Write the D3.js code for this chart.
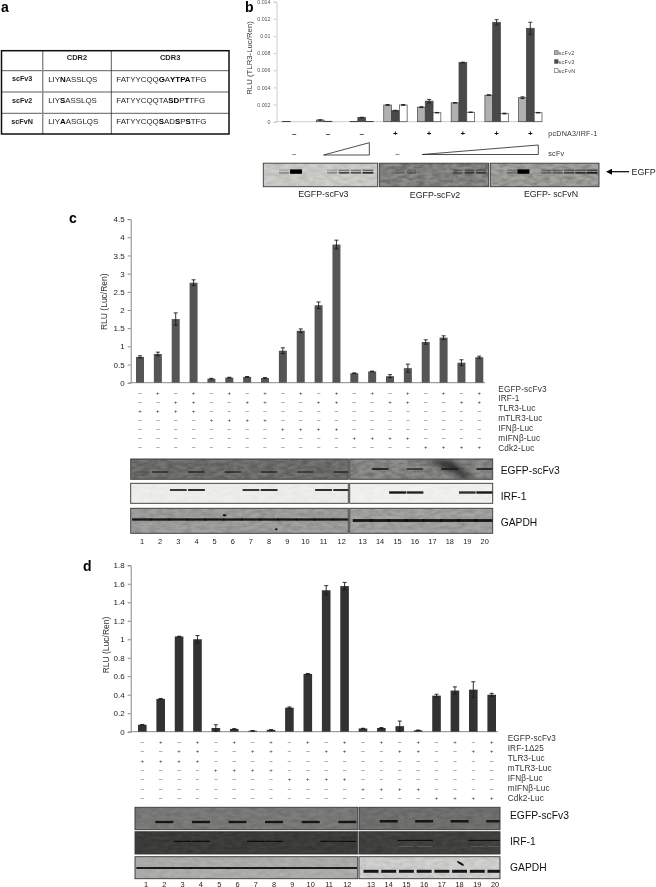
<!DOCTYPE html>
<html><head><meta charset="utf-8">
<script src="https://cdn.jsdelivr.net/npm/d3@7"></script>
<style>html,body{margin:0;background:#fff}svg{display:block}text{font-family:"Liberation Sans",Arial,sans-serif}</style>
</head><body><svg id="c" width="656" height="887"></svg>
<script>
// ---------- DATA ----------
const tableCols = ["", "CDR2", "CDR3"];
const tableNames = ["scFv3", "scFv2", "scFvN"];
const tableCdr2 = ["LIY*N*ASSLQS", "LIY*S*ASSLQS", "LIY*A*ASGLQS"];
const tableCdr3 = ["FATYYCQQ*G*A*YTP**A*TFG", "FATYYCQQTA*S**D*P*T*TFG", "FATYYCQQ*S*AD*S*P*S*TFG"];

const bSeries = ["scFv 2", "scFv 3", "scFv N"];
const bTicks = ["0", "0.002", "0.004", "0.006", "0.008", "0.01", "0.012", "0.014"];
const bScFv2 = [0.00003, 0.0002, 0.00003, 0.00195, 0.0017, 0.0022, 0.0031, 0.0028];
const bScFv3 = [0, 0.00005, 0.0005, 0.0013, 0.0024, 0.0069, 0.0116, 0.0109];
const bScFvN = [0, 0, 0.00003, 0.00195, 0.00105, 0.0011, 0.00095, 0.00105];
const bErr2 = [0, 0.00002, 0, 0.00005, 0.00005, 0.00003, 0.00005, 0.0001];
const bErr3 = [0, 0, 0.00002, 0.00003, 0.0002, 0.00005, 0.0003, 0.0007];
const bErrN = [0, 0, 0, 0.00005, 0.00003, 0.00003, 0.00005, 0.00003];
const bIrf = ["-", "-", "-", "+", "+", "+", "+", "+"];
const bGel1 = [0, .3, 1, 0, 0, .35, .7, .65, .85];
const bGel2 = [.25, .35, 0, 0, 0, .45, .65, .7];
const bGel3 = [.3, 1, 0, .4, .45, .65, .75, .9];
const bGelNames = ["EGFP-scFv3", "EGFP-scFv2", "EGFP- scFvN"];

const lanes = d3.range(1, 21);
const cTicks = [0, 0.5, 1, 1.5, 2, 2.5, 3, 3.5, 4, 4.5];
const cVals = [0.71, 0.79, 1.75, 2.75, 0.11, 0.14, 0.16, 0.13, 0.88, 1.43, 2.13, 3.80, 0.26, 0.31, 0.18, 0.40, 1.12, 1.24, 0.55, 0.70];
const cErrs = [0.03, 0.05, 0.17, 0.08, 0.01, 0.01, 0.01, 0.01, 0.08, 0.05, 0.09, 0.12, 0.01, 0.01, 0.04, 0.11, 0.06, 0.05, 0.08, 0.03];
const dTicks = [0, 0.2, 0.4, 0.6, 0.8, 1, 1.2, 1.4, 1.6, 1.8];
const dVals = [0.075, 0.355, 1.03, 1.0, 0.04, 0.03, 0.01, 0.02, 0.26, 0.625, 1.53, 1.575, 0.035, 0.04, 0.06, 0.015, 0.39, 0.445, 0.455, 0.40];
const dErrs = [0.003, 0.005, 0.003, 0.04, 0.035, 0.002, 0.002, 0.002, 0.008, 0.005, 0.05, 0.04, 0.002, 0.005, 0.055, 0.003, 0.015, 0.04, 0.085, 0.015];

const cRowNames = ["EGFP-scFv3", "IRF-1", "TLR3-Luc", "mTLR3-Luc", "IFNβ-Luc", "mIFNβ-Luc", "Cdk2-Luc"];
const dRowNames = ["EGFP-scFv3", "IRF-1Δ25", "TLR3-Luc", "mTLR3-Luc", "IFNβ-Luc", "mIFNβ-Luc", "Cdk2-Luc"];
const signRows = [
  "-+-+-+-+-+-+-+-+-+-+",
  "--++--++--++--++--++",
  "++++----------------",
  "----++++------------",
  "--------++++--------",
  "------------++++----",
  "----------------++++"];
const blotNames = ["EGFP-scFv3", "IRF-1", "GAPDH"];
const cEgfp = [.25, .7, 0, .75, 0, .7, 0, .7, 0, .65, 0, .75, 0, .95, 0, .75, 0, 1, 0, .9];
const cIrf = [0, 0, .9, .95, 0, 0, .9, .95, 0, 0, .95, .95, 0, 0, .95, .9, 0, 0, .85, .95];
const cGapdh = Array(20).fill(.95);
const dEgfp = [0, .95, 0, .95, 0, .9, 0, .95, 0, .95, 0, .95, 0, .95, 0, .95, 0, .95, 0, .85];
const dIrf = [0, 0, .9, .85, 0, 0, .85, .85, 0, 0, .8, .85, 0, 0, .9, .85, 0, 0, .8, .85];
const dGapdh = Array(20).fill(.95);

// ---------- HELPERS ----------
const svg = d3.select("#c");
const defs = svg.append("defs");
const blur = (id, s) => defs.append("filter").attr("id", id)
  .attr("x", "-30%").attr("y", "-100%").attr("width", "160%").attr("height", "300%")
  .append("feGaussianBlur").attr("stdDeviation", s);
blur("band", 0.6); blur("smear", 3);
defs.append("filter").attr("id", "page").attr("filterUnits", "userSpaceOnUse").attr("x", 0).attr("y", 0).attr("width", 656).attr("height", 887)
  .append("feGaussianBlur").attr("stdDeviation", 0.35);
const noise = defs.append("filter").attr("id", "noise").attr("x", 0).attr("y", 0).attr("width", "100%").attr("height", "100%");
noise.append("feTurbulence").attr("type", "fractalNoise").attr("baseFrequency", "0.12 0.3").attr("numOctaves", 3).attr("seed", 4);
noise.append("feColorMatrix").attr("values", "0 0 0 0 0  0 0 0 0 0  0 0 0 0 0  1.4 0 0 0 -0.45");
const root = svg.append("g").attr("filter", "url(#page)");
root.append("rect").attr("width", 656).attr("height", 887).attr("fill", "#fff");

function label(g, x, y, t, size, opts = {}) {
  return g.append("text").attr("x", x).attr("y", y).text(t).attr("font-size", size)
    .attr("fill", opts.fill || "#222").attr("text-anchor", opts.anchor || "start")
    .attr("font-weight", opts.weight || null).attr("dominant-baseline", "central")
    .attr("letter-spacing", opts.ls || null);
}
function marked(g, x, y, s, size) {
  const t = g.append("text").attr("x", x).attr("y", y).attr("font-size", size).attr("fill", "#222").attr("dominant-baseline", "central");
  s.split("*").forEach((p, i) => { if (p) t.append("tspan").text(p).attr("font-weight", i % 2 ? "bold" : null).attr("fill", i % 2 ? "#000" : null); });
}
function axis(g, scale, x, ticks, size, col, tickCol, baseEnd) {
  const a = g.append("g").attr("transform", `translate(${x},0)`).call(
    d3.axisLeft(scale).tickValues(ticks.map(Number)).tickFormat((d, i) => String(ticks[i])).tickSize(3).tickPadding(3));
  a.selectAll("path,line").attr("stroke", tickCol).attr("stroke-width", 1);
  a.selectAll("text").attr("font-size", size).attr("fill", col).attr("font-family", '"Liberation Sans",Arial,sans-serif');
  g.append("line").attr("x1", x).attr("x2", baseEnd).attr("y1", scale(0)).attr("y2", scale(0)).attr("stroke", tickCol).attr("stroke-width", 1);
}
function errBars(g, data, cx, y, color) {
  const e = g.selectAll(null).data(data).join("g").attr("stroke", color).attr("stroke-width", .9);
  e.append("line").attr("x1", cx).attr("x2", cx).attr("y1", d => y(d.v - d.e)).attr("y2", d => y(d.v + d.e));
  e.append("line").attr("x1", d => cx(d) - 2).attr("x2", d => cx(d) + 2).attr("y1", d => y(d.v + d.e)).attr("y2", d => y(d.v + d.e));
  e.append("line").attr("x1", d => cx(d) - 2).attr("x2", d => cx(d) + 2).attr("y1", d => y(d.v - d.e)).attr("y2", d => y(d.v - d.e));
}

// ---------- PANEL A ----------
const A = root.append("g");
label(A, 1, 7, "a", 14, { weight: "bold", fill: "#000" });
const colX = d3.scaleOrdinal([0, 1, 2, 3], [1.5, 42.7, 111.3, 229]);
const rowY = d3.scaleOrdinal([0, 1, 2, 3, 4], [50.7, 70.7, 92, 113.3, 134]);
[1, 2, 3].forEach(i => A.append("line").attr("x1", colX(0)).attr("x2", colX(3)).attr("y1", rowY(i)).attr("y2", rowY(i)).attr("stroke", "#333").attr("stroke-width", .8));
A.append("line").attr("x1", colX(1)).attr("x2", colX(1)).attr("y1", rowY(0)).attr("y2", rowY(4)).attr("stroke", "#888").attr("stroke-width", 1.4);
A.append("line").attr("x1", colX(2)).attr("x2", colX(2)).attr("y1", rowY(0)).attr("y2", rowY(4)).attr("stroke", "#333").attr("stroke-width", .8);
A.append("rect").attr("x", colX(0)).attr("y", rowY(0)).attr("width", colX(3) - colX(0)).attr("height", rowY(4) - rowY(0)).attr("fill", "none").attr("stroke", "#111").attr("stroke-width", 1.5);
[1, 2].forEach(i => label(A, (colX(i) + colX(i + 1)) / 2, 57.5, tableCols[i], 7.5, { anchor: "middle", weight: "bold" }));
tableNames.forEach((n, i) => {
  const y = (rowY(i + 1) + rowY(i + 2)) / 2 - 2.5;
  label(A, (colX(0) + colX(1)) / 2, y, n, 7.2, { anchor: "middle", weight: "bold" });
  marked(A, colX(1) + 5.5, y, tableCdr2[i], 7.9);
  marked(A, colX(2) + 5, y, tableCdr3[i], 7.9);
});

// ---------- PANEL B ----------
const B = root.append("g");
label(B, 245, 7, "b", 14, { weight: "bold", fill: "#000" });
const yB = d3.scaleLinear().domain([0, 0.014]).range([121.7, 1.7]);
axis(B, yB, 276.5, bTicks, 5.3, "#555", "#ccc", 541.7);
B.append("text").attr("transform", `translate(249,58) rotate(-90)`).attr("text-anchor", "middle").attr("dominant-baseline", "central").attr("font-size", 7.8).attr("fill", "#333").text("RLU (TLR3-Luc/Ren)");
const groups = d3.range(8);
const gx = d3.scalePoint().domain(groups).range([294.3, 530.3]);
const sx = d3.scaleBand().domain(bSeries).range([-11.7, 11.7]);
const sVals = [bScFv2, bScFv3, bScFvN], sErrs = [bErr2, bErr3, bErrN];
const sColor = d3.scaleOrdinal(bSeries, ["#b0b0b0", "#484848", "#ffffff"]);
bSeries.forEach((s, si) => {
  const data = groups.map(i => ({ i, v: sVals[si][i], e: sErrs[si][i] }));
  B.append("g").selectAll("rect").data(data).join("rect")
    .attr("x", d => gx(d.i) + sx(s)).attr("width", sx.bandwidth())
    .attr("y", d => yB(d.v)).attr("height", d => yB(0) - yB(d.v))
    .attr("fill", sColor(s)).attr("stroke", "#444").attr("stroke-width", .7);
  errBars(B, data.filter(d => d.e > 0), d => gx(d.i) + sx(s) + sx.bandwidth() / 2, yB, "#222");
});
bSeries.forEach((s, i) => {
  const y = 52.7 + i * 9;
  B.append("rect").attr("x", 554.5).attr("y", y - 2).attr("width", 3.6).attr("height", 3.6).attr("fill", sColor(s)).attr("stroke", "#555").attr("stroke-width", .6);
  label(B, 558.5, y, s.replace(" ", ""), 5.4, { fill: "#444", ls: ".35" });
});
bIrf.forEach((s, i) => label(B, gx(i), 133.3, s === "-" ? "–" : s, 8, { anchor: "middle", weight: "bold", fill: "#111" }));
label(B, 548.3, 133.7, "pcDNA3/IRF-1", 7.2, { fill: "#333", ls: ".2" });
label(B, 548.3, 153.3, "scFv", 7.2, { fill: "#333", ls: ".2" });
[0, 3].forEach(i => label(B, gx(i) + (i ? 2 : 0), 153.3, "–", 7, { anchor: "middle", fill: "#111" }));
const tri = (x0, x1, yT, yB2) => B.append("path").attr("d", d3.line()([[x0, yB2], [x1, yT], [x1, yB2]]) + "Z").attr("fill", "#fff").attr("stroke", "#222").attr("stroke-width", .8);
tri(gx(1) - 4.4, gx(2) + 7.6, 142.7, 155);
tri(gx(3) + 26.7, gx(7) + 8, 145, 154.5);

let gelId = 0;
function gel(g, x0, x1, y0, y1, fill, stroke = "#333") {
  const id = "gelclip" + (gelId++);
  defs.append("clipPath").attr("id", id).append("rect").attr("x", x0).attr("y", y0).attr("width", x1 - x0).attr("height", y1 - y0);
  const r = g.append("g").attr("clip-path", `url(#${id})`);
  r.append("rect").attr("x", x0).attr("y", y0).attr("width", x1 - x0).attr("height", y1 - y0).attr("fill", fill);
  g.append("rect").attr("x", x0).attr("y", y0).attr("width", x1 - x0).attr("height", y1 - y0).attr("fill", "none").attr("stroke", stroke).attr("stroke-width", .9);
  return r;
}
function gelNoise(g, x0, x1, y0, y1, op) {
  g.append("rect").attr("x", x0 + .5).attr("y", y0 + .5).attr("width", x1 - x0 - 1).attr("height", y1 - y0 - 1).attr("filter", "url(#noise)").attr("opacity", op);
}
function bands(g, vals, lane, y, w, h, col = "#111") {
  g.append("g").attr("filter", "url(#band)").selectAll("rect").data(vals.map((v, i) => ({ v, i })).filter(d => d.v > 0)).join("rect")
    .attr("x", d => lane(d.i) - w / 2 * (.85 + d.v * .15)).attr("width", d => w * (.85 + d.v * .15))
    .attr("y", y - h / 2).attr("height", h).attr("fill", col).attr("opacity", d => d.v);
}
const bGels = [
  { x0: 263.3, x1: 377.7, fill: "#cfcfcb", vals: bGel1, r: [272, 368], op: .14, bw: 11 },
  { x0: 379.3, x1: 488.7, fill: "#8d8d8a", vals: bGel2, r: [400, 481], op: .4, bw: 10 },
  { x0: 490.3, x1: 599, fill: "#a4a4a0", vals: bGel3, r: [512, 592], op: .3, bw: 11 }];
bGels.forEach((c, i) => {
  const g = gel(B, c.x0, c.x1, 163.2, 186.7, c.fill);
  gelNoise(g, c.x0, c.x1, 163.2, 186.7, c.op);
  const lane = d3.scalePoint().domain(d3.range(c.vals.length)).range(c.r);
  bands(g, c.vals, i => lane(i), 170.2, c.bw, 1, i === 0 ? "#222" : "#111");
  bands(g, c.vals, i => lane(i), 172.8, c.bw, 1.8);
  bands(g, c.vals.map(v => v >= 1 ? 1 : 0), i => lane(i), 171.5, c.bw + 1, 4, "#000");
  label(B, [323.3, 435, 551][i], i === 1 ? 195 : 194, bGelNames[i], 8.8, { anchor: "middle", fill: "#222" });
});
B.append("line").attr("x1", 629).attr("x2", 610).attr("y1", 171.7).attr("y2", 171.7).attr("stroke", "#000").attr("stroke-width", 1.2);
B.append("path").attr("d", d3.line()([[606, 171.7], [612, 168.7], [612, 174.7]]) + "Z").attr("fill", "#000");
label(B, 631.5, 172, "EGFP", 8.9, { fill: "#222" });

// ---------- PANELS C, D ----------
function panel(o) {
  const g = root.append("g");
  label(g, o.letterX, o.letterY, o.letter, 14, { weight: "bold", fill: "#000" });
  const y = d3.scaleLinear().domain(o.dom).range(o.yr);
  axis(g, y, 130.7, o.ticks, 8, "#222", "#888", o.baseEnd);
  g.append("text").attr("transform", `translate(${o.ylabX},${o.ylabY}) rotate(-90)`).attr("text-anchor", "middle").attr("dominant-baseline", "central").attr("font-size", 8.5).attr("fill", "#333").text("RLU (Luc/Ren)");
  const x = d3.scalePoint().domain(lanes).range(o.xr);
  const data = lanes.map((l, i) => ({ l, v: o.vals[i], e: o.errs[i] }));
  g.append("g").selectAll("rect").data(data).join("rect")
    .attr("x", d => x(d.l) - o.bw / 2).attr("width", o.bw)
    .attr("y", d => y(d.v)).attr("height", d => y(0) - y(d.v)).attr("fill", o.color);
  errBars(g, data, d => x(d.l), y, "#1a1a1a");

  o.rowNames.forEach((n, ri) => {
    label(g, o.nameX, o.nameY + ri * o.nameStep, n, 8.2, { fill: "#333", ls: ".15" });
    lanes.forEach((l, i) => {
      const s = signRows[ri][i];
      label(g, x(l), o.signY + ri * o.signStep, s === "-" ? "–" : "+", 6, { anchor: "middle", fill: "#333" });
    });
  });

  const laneL = d3.scalePoint().domain(d3.range(12)).range(o.laneL);
  const laneR = d3.scalePoint().domain(d3.range(12, 20)).range(o.laneR);
  const lane = i => i < 12 ? laneL(i) : laneR(i);
  const laneB = d3.scaleLinear().domain([0, 11]).range(o.laneL);
  const laneBR = d3.scaleLinear().domain([12, 19]).range(o.laneR);
  o.blots.forEach((b, ri) => {
    const L = gel(g, o.gl[0], o.gl[1], b.y0, b.y1, b.fillL);
    const R = gel(g, o.gr[0], o.gr[1], b.y0, b.y1, b.fillR);
    gelNoise(L, o.gl[0], o.gl[1], b.y0, b.y1, b.noise);
    gelNoise(R, o.gr[0], o.gr[1], b.y0, b.y1, b.noise);
    if (b.smear) R.append("path").attr("filter", "url(#smear)").attr("fill", "#1a1a1a").attr("opacity", .85)
      .attr("d", d3.line()([[laneBR(15.6), b.y0 + 1], [laneBR(17), b.y0 + 1], [laneBR(18.4), b.y1 - 1], [laneBR(17.9), b.y1 - 1]]) + "Z");
    const wL = b.w || o.bandW, wR = b.wR || b.w || o.bandW;
    bands(L, b.vals.slice(0, 12), i => lane(i), b.bandL, wL, b.h, b.bandCol);
    bands(R, b.vals.slice(12), i => lane(i + 12), b.bandR, wR, b.hR || b.h, b.bandCol);
    if (b.ghost) bands(R, b.vals.slice(12), i => lane(i + 12), b.bandR + 6, wR * .8, .8, "#666");
    if (b.specks) b.specks.forEach(s => {
      const S = s.lane < 12 ? L : R;
      const cx = (s.lane < 12 ? laneB : laneBR)(s.lane), cy = b.y0 + s.f * (b.y1 - b.y0);
      S.append("ellipse").attr("cx", cx).attr("cy", cy).attr("rx", s.rx).attr("ry", 1).attr("fill", "#111")
        .attr("transform", s.rot ? `rotate(${s.rot} ${cx} ${cy})` : null);
    });
    label(g, o.blotX, b.labelY, blotNames[ri], 10.3, { fill: "#111" });
  });
  lanes.forEach((l, i) => label(g, lane(i), o.laneY, l, 7.4, { anchor: "middle", fill: "#222" }));
}

panel({
  letter: "c", letterX: 69, letterY: 218, dom: [0, 4.5], yr: [382.7, 219.1], ticks: cTicks, vals: cVals, errs: cErrs,
  xr: [140, 479.3], bw: 8, color: "#555", baseEnd: 485, ylabX: 104.3, ylabY: 301.7,
  rowNames: cRowNames, nameX: 498.3, nameY: 389, nameStep: 9.85, signY: 392.5, signStep: 9.1,
  laneL: [142, 341.7], laneR: [362.7, 484.7], laneY: 541, bandW: 17,
  gl: [130.7, 348.3], gr: [349.7, 492.7], blotX: 500.7,
  blots: [
    { y0: 459, y1: 479.3, fillL: "#747472", fillR: "#8e8e8c", noise: .32, vals: cEgfp, bandL: 472, bandR: 469, h: 1.8, bandCol: "#1c1c1c", smear: true, labelY: 470 },
    { y0: 483.3, y1: 503.3, fillL: "#eeeeea", fillR: "#f1f1ee", noise: .04, vals: cIrf, bandL: 490, bandR: 492.5, h: 1.8, hR: 2.4, bandCol: "#111", labelY: 496 },
    { y0: 508.3, y1: 533.3, fillL: "#a2a2a0", fillR: "#a6a6a4", noise: .2, vals: cGapdh, bandL: 519.5, bandR: 520.5, h: 2.2, hR: 2.8, w: 20, wR: 20, bandCol: "#0c0c0c", labelY: 522,
      specks: [{ lane: 4.55, f: .28, rx: 2 }, { lane: 7.4, f: .84, rx: 1.3 }] }
  ]
});

panel({
  letter: "d", letterX: 83, letterY: 566, dom: [0, 1.8], yr: [731.7, 565.3], ticks: dTicks, vals: dVals, errs: dErrs,
  xr: [142.3, 491.7], bw: 8.6, color: "#333", baseEnd: 498, ylabX: 105.7, ylabY: 645,
  rowNames: dRowNames, nameX: 507.7, nameY: 738.3, nameStep: 9.95, signY: 741.7, signStep: 9.4,
  laneL: [146, 347.3], laneR: [371, 495], laneY: 884, bandW: 18,
  gl: [135, 357.7], gr: [359, 500], blotX: 510,
  blots: [
    { y0: 807.3, y1: 829.7, fillL: "#7d7d7b", fillR: "#737371", noise: .18, vals: dEgfp, bandL: 822, bandR: 821.3, h: 2.3, bandCol: "#080808", labelY: 815.5 },
    { y0: 831.7, y1: 854, fillL: "#3f3f3d", fillR: "#444442", noise: .25, vals: dIrf, bandL: 841.3, bandR: 840.4, h: 1.1, bandCol: "#050505", ghost: true, labelY: 841 },
    { y0: 856.7, y1: 878.7, fillL: "#b0b0ae", fillR: "#d2d2d0", noise: .12, vals: dGapdh, bandL: 868, bandR: 871.3, h: 1.9, hR: 3, w: 19.5, wR: 15, bandCol: "#0c0c0c", labelY: 867,
      specks: [{ lane: 17.05, f: .3, rx: 4, rot: 32 }] }
  ]
});
</script></body></html>
